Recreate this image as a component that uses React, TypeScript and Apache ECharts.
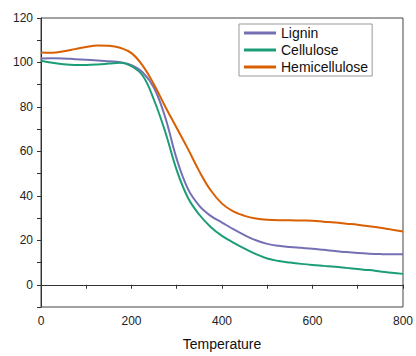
import React, { useEffect, useRef } from "react";
import * as echarts from "echarts";

const temperatures = [0, 25, 50, 75, 100, 125, 150, 175, 200, 225, 250, 275, 300, 325, 350, 375, 400, 425, 450, 475, 500, 525, 550, 575, 600, 625, 650, 675, 700, 725, 750, 775, 800];
const lignin = [101.8, 101.9, 101.8, 101.5, 101.2, 100.9, 100.5, 100.1, 98.8, 95.5, 88.5, 75, 56.5, 43, 35.5, 31, 28, 25, 22.3, 20, 18.4, 17.5, 17, 16.6, 16.2, 15.7, 15.2, 14.7, 14.3, 14, 13.8, 13.7, 13.7];
const cellulose = [100.8, 99.9, 99.2, 98.9, 98.9, 99.1, 99.5, 99.9, 98.3, 94, 83, 68.5, 51.5, 39, 31.5, 26, 22, 19, 16.3, 13.8, 11.8, 10.7, 10, 9.4, 8.9, 8.5, 8.1, 7.6, 7.1, 6.6, 6, 5.4, 4.9];
const hemicellulose = [104.5, 104.4, 105, 106, 107, 107.6, 107.5, 106.6, 104.2, 98.5, 90, 80, 70.5, 61, 51, 42.5, 36.5, 33, 31, 29.8, 29.2, 29, 29, 28.9, 28.8, 28.4, 28, 27.5, 27, 26.3, 25.6, 24.8, 24];

const seriesNames = ["Lignin", "Cellulose", "Hemicellulose"];
const seriesColors = ["#7570b3", "#1b9e77", "#d95f02"];
const xTickLabels = [0, 200, 400, 600, 800];
const yTickLabels = [0, 20, 40, 60, 80, 100, 120];

export default function App() {
  const ref = useRef<HTMLDivElement>(null);
  useEffect(() => {
    if (!ref.current) return;
    const chart = echarts.init(ref.current, null, { renderer: "svg" });
    const font = "'Liberation Sans', Arial, sans-serif";
    const allData = [lignin, cellulose, hemicellulose];
    chart.setOption({
      animation: false,
      textStyle: { fontFamily: font },
      grid: {
        left: 41,
        right: 11,
        top: 18,
        bottom: 45,
        show: true,
        borderColor: "#444",
        borderWidth: 1,
        containLabel: false,
      },
      legend: {
        orient: "vertical",
        left: 239,
        top: 24,
        data: seriesNames,
        icon: "rect",
        itemWidth: 32,
        itemHeight: 3,
        itemGap: 3,
        padding: [2, 4, 2, 5],
        borderColor: "#999",
        borderWidth: 1,
        textStyle: { fontSize: 14, color: "#111", fontFamily: font },
      },
      xAxis: {
        type: "value",
        min: 0,
        max: 800,
        interval: 100,
        name: "Temperature",
        nameLocation: "middle",
        nameGap: 30,
        nameTextStyle: { fontSize: 14, color: "#111", fontFamily: font },
        axisLine: { show: true, lineStyle: { color: "#333", width: 1 } },
        axisTick: { show: true, inside: false, length: 4, lineStyle: { color: "#333" } },
        axisLabel: {
          fontSize: 12,
          color: "#222",
          fontFamily: font,
          margin: 8,
          formatter: (v: number) => (xTickLabels.includes(v) ? String(v) : ""),
        },
        splitLine: { show: false },
      },
      yAxis: {
        type: "value",
        min: -10,
        max: 120,
        interval: 10,
        axisLine: { show: true, lineStyle: { color: "#333", width: 1 } },
        axisTick: { show: true, inside: false, length: 4, lineStyle: { color: "#333" } },
        axisLabel: {
          fontSize: 12,
          color: "#222",
          fontFamily: font,
          margin: 8,
          formatter: (v: number) => (yTickLabels.includes(v) ? String(v) : ""),
        },
        splitLine: { show: false },
      },
      series: seriesNames.map((name, i) => ({
        name,
        type: "line",
        smooth: 0.4,
        symbol: "none",
        data: temperatures.map((t, j) => [t, allData[i][j]]),
        lineStyle: { color: seriesColors[i], width: 2 },
        itemStyle: { color: seriesColors[i] },
      })),
    });
    return () => chart.dispose();
  }, []);
  return <div ref={ref} style={{ width: 416, height: 356, position: "absolute", left: 0, top: 0 }} />;
}
